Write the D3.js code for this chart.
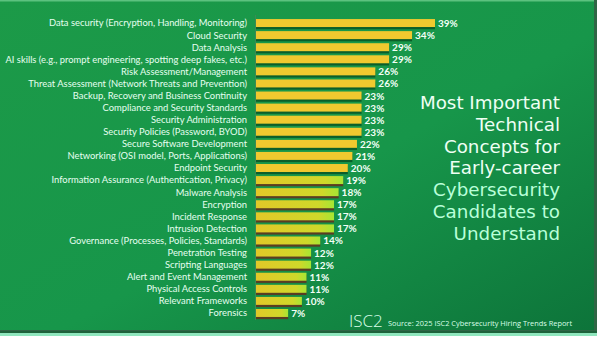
<!DOCTYPE html>
<html><head><meta charset="utf-8">
<script src="https://cdn.jsdelivr.net/npm/d3@7"></script>
<style>html,body{margin:0;padding:0;background:#fff;overflow:hidden}svg{display:block}</style>
</head><body>
<script>
const categories = [
 "Data security (Encryption, Handling, Monitoring)",
 "Cloud Security",
 "Data Analysis",
 "AI skills (e.g., prompt engineering, spotting deep fakes, etc.)",
 "Risk Assessment/Management",
 "Threat Assessment (Network Threats and Prevention)",
 "Backup, Recovery and Business Continuity",
 "Compliance and Security Standards",
 "Security Administration",
 "Security Policies (Password, BYOD)",
 "Secure Software Development",
 "Networking (OSI model, Ports, Applications)",
 "Endpoint Security",
 "Information Assurance (Authentication, Privacy)",
 "Malware Analysis",
 "Encryption",
 "Incident Response",
 "Intrusion Detection",
 "Governance (Processes, Policies, Standards)",
 "Penetration Testing",
 "Scripting Languages",
 "Alert and Event Management",
 "Physical Access Controls",
 "Relevant Frameworks",
 "Forensics"
];
const values = [39,34,29,29,26,26,23,23,23,23,22,21,20,19,18,17,17,17,14,12,12,11,11,10,7];
const titleLines = ["Most Important","Technical","Concepts for","Early-career","Cybersecurity","Candidates to","Understand"];
const sourceText = "Source: 2025 ISC2 Cybersecurity Hiring Trends Report";
const logoText = "ISC2";

const W = 601, H = 338;
const svg = d3.select("body").append("svg").attr("width", W).attr("height", H);
const defs = svg.append("defs");

const bg = defs.append("linearGradient").attr("id","bg").attr("x1","0").attr("y1","0").attr("x2","1").attr("y2","1");
bg.append("stop").attr("offset","0").attr("stop-color","#1c9a48");
bg.append("stop").attr("offset","0.55").attr("stop-color","#17964a");
bg.append("stop").attr("offset","1").attr("stop-color","#0d743a");

const g2 = defs.append("linearGradient").attr("id","lime").attr("x1","0").attr("y1","0").attr("x2","1").attr("y2","0");
g2.append("stop").attr("offset","0").attr("stop-color","#e2c828");
g2.append("stop").attr("offset","0.8").attr("stop-color","#cfd82a");
g2.append("stop").attr("offset","1").attr("stop-color","#a6e634");

// page frame
svg.append("rect").attr("x",0).attr("y",0).attr("width",W).attr("height",H).attr("fill","#ffffff");
svg.append("rect").attr("x",0).attr("y",331).attr("width",597).attr("height",5).attr("fill","#8fe6bd");
svg.append("rect").attr("x",0).attr("y",0).attr("width",597).attr("height",333).attr("fill","#0a4a24").attr("opacity",0.85);
svg.append("rect").attr("x",0).attr("y",0).attr("width",594).attr("height",330).attr("fill","url(#bg)");
svg.append("rect").attr("x",0).attr("y",0).attr("width",594).attr("height",1.5).attr("fill","#5cc27f");

// scales
const x0 = 256;
const x = d3.scaleLinear().domain([0, 39]).range([0, 179]);
const y = d3.scaleBand().domain(categories).range([17, 319]).paddingInner(0.34).paddingOuter(0.17);

const data = categories.map((c,i)=>({c, v: values[i], i}));

// axis line
svg.append("line").attr("x1",x0-0.5).attr("x2",x0-0.5).attr("y1",15).attr("y2",320)
  .attr("stroke","#3b8a55").attr("stroke-width",1.2);

const rows = svg.append("g").selectAll("g").data(data).join("g");

rows.append("rect")
  .attr("x", x0).attr("y", d => y(d.c) + 2.2)
  .attr("width", d => x(d.v)).attr("height", y.bandwidth())
  .attr("fill", d => d.i < 13 ? "#0b5e2a" : "#5a3d22");

rows.append("rect")
  .attr("x", x0).attr("y", d => y(d.c))
  .attr("width", d => x(d.v)).attr("height", y.bandwidth())
  .attr("fill", d => d.i < 13 ? "#f0c92f" : "url(#lime)");

const labels = rows.append("text")
  .attr("x", 247).attr("y", d => y(d.c) + y.bandwidth()/2 + 3.4)
  .attr("text-anchor","end")
  .attr("font-family","Lato, sans-serif").attr("font-size", 9.4)
  .attr("fill","#e6fff0")
  .text(d => d.c);
// fit widest label into available width
let maxW = 0;
labels.each(function(){ maxW = Math.max(maxW, this.getComputedTextLength()); });
if (maxW > 242) labels.attr("font-size", 9.4 * 242 / maxW);

rows.append("text")
  .attr("x", d => x0 + x(d.v) + 3).attr("y", d => y(d.c) + y.bandwidth()/2 + 4)
  .attr("font-family","Lato, sans-serif").attr("font-size", 10).attr("font-weight", 700)
  .attr("fill","#f2fff6")
  .text(d => d.v + "%");

// title
svg.append("g").selectAll("text").data(titleLines).join("text")
  .attr("x", 560).attr("y", (d,i) => 109 + i*21.8)
  .attr("text-anchor","end")
  .attr("font-family","'DejaVu Sans', sans-serif").attr("font-size", 18.3)
  .attr("fill", (d,i) => i < 4 ? "#eefff4" : "#b9ffd9")
  .text(d => d);

// footer
svg.append("text").attr("x", 349).attr("y", 327)
  .attr("font-family","'Open Sans', sans-serif").attr("font-size", 17).attr("font-weight", 300)
  .attr("fill","#d8ffe8").text(logoText);
svg.append("text").attr("x", 388).attr("y", 326)
  .attr("font-family","'Open Sans', sans-serif").attr("font-size", 7.4)
  .attr("fill","#d8ffe8").text(sourceText);
</script>
</body></html>
